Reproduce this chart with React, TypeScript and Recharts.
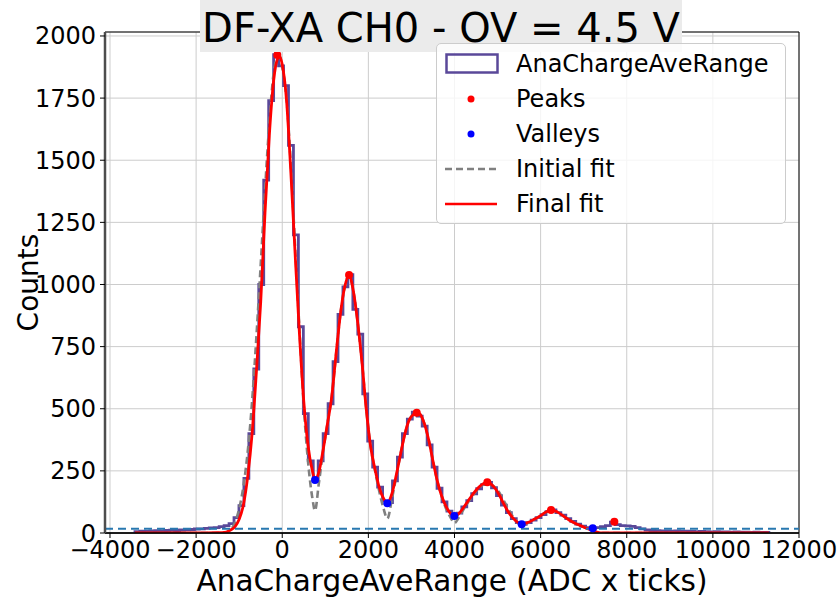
import React from "react";
import {
  CartesianGrid,
  ComposedChart,
  Line,
  ReferenceArea,
  ReferenceLine,
  Scatter,
  XAxis,
  YAxis,
} from "recharts";

const X_TICKS = [-4000, -2000, 0, 2000, 4000, 6000, 8000, 10000, 12000];
const Y_TICKS = [0, 250, 500, 750, 1000, 1250, 1500, 1750, 2000];
const X_DOMAIN: [number, number] = [-4116, 12000];
const Y_DOMAIN: [number, number] = [0, 2016];

// histogram of AnaChargeAveRange (bin edges start at HIST_FIRST_EDGE)
const HIST_FIRST_EDGE = -3420;
const HIST_BIN_WIDTH = 115;
const HIST_COUNTS = [
  5, 7, 6, 8, 9, 8, 10, 11, 10, 12,
  13, 14, 16, 17, 19, 21, 22, 26, 30, 38,
  62, 110, 220, 400, 660, 1000, 1420, 1740, 1925, 1880,
  1800, 1560, 1200, 830, 480, 290, 215, 290, 400, 520,
  690, 880, 990, 1040, 900, 800, 560, 370, 265, 185,
  128, 122, 210, 305, 400, 458, 486, 470, 430, 355,
  265, 180, 125, 88, 68, 80, 105, 130, 158, 178,
  195, 204, 182, 150, 112, 82, 58, 42, 35, 42,
  52, 62, 74, 86, 93, 82, 72, 58, 47, 36,
  28, 22, 19, 22, 26, 30, 44, 34, 30, 29,
  27, 22, 17, 12, 10, 9, 8, 8, 7, 8,
  6, 7, 6, 5, 6, 5, 4, 5, 4, 4,
  3, 4, 3, 3, 2, 3, 2, 2,
];

// fit curves sampled at FIT_X
const FIT_X = [
  -3420, -2000, -1500, -1300, -1200, -1100, -1000, -900, -800, -700,
  -600, -500, -400, -300, -200, -100, -60, 0, 100, 200,
  300, 400, 500, 600, 700, 760, 850, 950, 1050, 1150,
  1250, 1350, 1450, 1550, 1650, 1750, 1850, 1950, 2050, 2150,
  2250, 2350, 2440, 2550, 2650, 2750, 2850, 2950, 3050, 3130,
  3200, 3300, 3400, 3500, 3600, 3700, 3800, 3900, 4000, 4100,
  4200, 4300, 4400, 4500, 4600, 4700, 4760, 4850, 4950, 5050,
  5150, 5250, 5350, 5450, 5560, 5700, 5850, 6000, 6100, 6250,
  6400, 6550, 6700, 6850, 7000, 7150, 7300, 7450, 9000, 11300,
];
const INITIAL_FIT = [
  0, 0, 0, 3, 12, 42, 98, 190, 330, 530,
  790, 1080, 1380, 1650, 1850, 1917, 1918, 1875, 1745, 1480,
  1150, 820, 510, 285, 140, 90, 200, 330, 440, 550,
  720, 880, 990, 1037, 975, 850, 690, 500, 350, 255,
  170, 100, 58, 140, 230, 320, 400, 455, 478, 484,
  478, 440, 375, 290, 210, 150, 100, 65, 40, 62,
  92, 120, 145, 168, 186, 197, 200, 196, 182, 160,
  128, 97, 68, 45, 30, 40, 55, 70, 82, 93,
  83, 66, 48, 35, 24, 13, 4, 0, 0, 0,
];
const FINAL_FIT = [
  0, 0, 1, 4, 12, 25, 55, 115, 230, 400,
  650, 930, 1290, 1600, 1820, 1912, 1918, 1885, 1740, 1450,
  1120, 800, 530, 350, 250, 215, 245, 335, 440, 550,
  720, 880, 990, 1037, 975, 850, 690, 500, 350, 260,
  185, 140, 122, 160, 235, 320, 400, 455, 478, 484,
  478, 440, 375, 290, 210, 150, 108, 80, 68, 78,
  100, 125, 150, 172, 190, 201, 204, 197, 178, 150,
  115, 85, 62, 45, 35, 42, 55, 70, 82, 93,
  83, 66, 48, 35, 24, 13, 4, 0, 0, 0,
];

const PEAK_X = [-114, 1551, 3123, 4762, 6242, 7712];
const PEAK_Y = [1923, 1038, 484, 204, 93, 45];
const VALLEY_X = [761, 2440, 3996, 5561, 7210];
const VALLEY_Y = [213, 120, 68, 35, 19];

const BASELINE = 17;

const histData = [
  { x: HIST_FIRST_EDGE, y: 0 },
  ...HIST_COUNTS.map((c, i) => ({ x: HIST_FIRST_EDGE + i * HIST_BIN_WIDTH, y: c })),
  { x: HIST_FIRST_EDGE + HIST_COUNTS.length * HIST_BIN_WIDTH, y: HIST_COUNTS[HIST_COUNTS.length - 1] },
  { x: HIST_FIRST_EDGE + HIST_COUNTS.length * HIST_BIN_WIDTH, y: 0 },
];
const initialData = FIT_X.map((x, i) => ({ x, y: INITIAL_FIT[i] }));
const finalData = FIT_X.map((x, i) => ({ x, y: FINAL_FIT[i] }));
const peakData = PEAK_X.map((x, i) => ({ x, y: PEAK_Y[i] }));
const valleyData = VALLEY_X.map((x, i) => ({ x, y: VALLEY_Y[i] }));

const HIST_COLOR = "#5a4899";
const FONT = "'DejaVu Sans', sans-serif";

const fmtTick = (v: number) => (v < 0 ? `\u2212${Math.abs(v)}` : `${v}`);

const dot = (color: string) => (p: any) =>
  <circle cx={p.cx} cy={p.cy} r={4} fill={color} />;

const LEGEND_ROWS = [
  { label: "AnaChargeAveRange", kind: "patch" },
  { label: "Peaks", kind: "red-dot" },
  { label: "Valleys", kind: "blue-dot" },
  { label: "Initial fit", kind: "dash" },
  { label: "Final fit", kind: "line" },
];

const LegendHandle = ({ kind }: { kind: string }) => (
  <svg width={54} height={34}>
    {kind === "patch" && (
      <rect x={1.5} y={7.5} width={51} height={18} fill="none" stroke={HIST_COLOR} strokeWidth={2.5} />
    )}
    {kind === "red-dot" && <circle cx={26} cy={17} r={3.5} fill="#ff0000" />}
    {kind === "blue-dot" && <circle cx={26} cy={17} r={3.5} fill="#0000ff" />}
    {kind === "dash" && (
      <line x1={0} y1={17} x2={52} y2={17} stroke="#808080" strokeWidth={2.5} strokeDasharray="7 4" />
    )}
    {kind === "line" && <line x1={0} y1={17} x2={52} y2={17} stroke="#ff0000" strokeWidth={2.5} />}
  </svg>
);

export default function App() {
  return (
    <div
      style={{
        position: "absolute",
        left: 0,
        top: 0,
        width: 840,
        height: 598,
        background: "#fff",
        fontFamily: FONT,
      }}
    >
      <ComposedChart width={840} height={598} margin={{ top: 32, right: 41, bottom: 0, left: 0 }}>
        <CartesianGrid stroke="#cccccc" strokeWidth={1} />
        <XAxis
          type="number"
          dataKey="x"
          domain={X_DOMAIN}
          ticks={X_TICKS}
          allowDataOverflow
          height={65}
          tickFormatter={fmtTick}
          tick={{ fontSize: 24, fill: "#000" }}
          tickSize={5}
          tickMargin={3}
          axisLine={{ stroke: "#000", strokeWidth: 1.5 }}
          tickLine={{ stroke: "#000" }}
          label={{
            value: "AnaChargeAveRange (ADC x ticks)",
            position: "insideBottom",
            offset: 7,
            fontSize: 29.5,
            fill: "#000",
          }}
        />
        <YAxis
          type="number"
          dataKey="y"
          domain={Y_DOMAIN}
          ticks={Y_TICKS}
          allowDataOverflow
          width={105}
          tick={{ fontSize: 24, fill: "#000" }}
          tickSize={5}
          tickMargin={4}
          axisLine={{ stroke: "#4d4d4d", strokeWidth: 2.5 }}
          tickLine={{ stroke: "#000" }}
          label={{
            value: "Counts",
            angle: -90,
            position: "insideLeft",
            offset: 28,
            fontSize: 28,
            fill: "#000",
            style: { textAnchor: "middle" },
          }}
        />
        <ReferenceArea
          x1={X_DOMAIN[0]}
          x2={X_DOMAIN[1]}
          y1={Y_DOMAIN[0]}
          y2={Y_DOMAIN[1]}
          fill="none"
          fillOpacity={0}
          stroke="#000"
          strokeWidth={1}
        />
        <Line
          data={histData}
          dataKey="y"
          type="stepAfter"
          stroke={HIST_COLOR}
          strokeWidth={2.8}
          dot={false}
          activeDot={false}
          isAnimationActive={false}
        />
        <Scatter data={peakData} fill="#ff0000" shape={dot("#ff0000")} isAnimationActive={false} />
        <Scatter data={valleyData} fill="#0000ff" shape={dot("#0000ff")} isAnimationActive={false} />
        <Line
          data={initialData}
          dataKey="y"
          type="monotone"
          stroke="#808080"
          strokeWidth={2.6}
          strokeDasharray="7 4"
          dot={false}
          activeDot={false}
          isAnimationActive={false}
        />
        <Line
          data={finalData}
          dataKey="y"
          type="monotone"
          stroke="#ff0000"
          strokeWidth={2.8}
          dot={false}
          activeDot={false}
          isAnimationActive={false}
        />
        <ReferenceLine y={BASELINE} stroke="#2878b0" strokeWidth={2} strokeDasharray="8 5" />
      </ComposedChart>

      <div
        style={{
          position: "absolute",
          left: 200,
          top: 0,
          width: 482,
          height: 52,
          background: "#ebebeb",
          fontSize: 40,
          lineHeight: "56px",
          textAlign: "center",
          whiteSpace: "nowrap",
          color: "#000",
        }}
      >
        DF-XA CH0 - OV = 4.5 V
      </div>

      <div
        style={{
          position: "absolute",
          left: 436,
          top: 43,
          width: 350,
          height: 181,
          boxSizing: "border-box",
          background: "rgba(255,255,255,0.8)",
          border: "1px solid #cccccc",
          borderRadius: 5,
        }}
      >
        {LEGEND_ROWS.map((r, i) => (
          <div
            key={r.label}
            style={{
              position: "absolute",
              left: 8,
              top: 3 + i * 35,
              height: 34,
              display: "flex",
              alignItems: "center",
              fontSize: 24,
              whiteSpace: "nowrap",
            }}
          >
            <LegendHandle kind={r.kind} />
            <span style={{ marginLeft: 17 }}>{r.label}</span>
          </div>
        ))}
      </div>
    </div>
  );
}
